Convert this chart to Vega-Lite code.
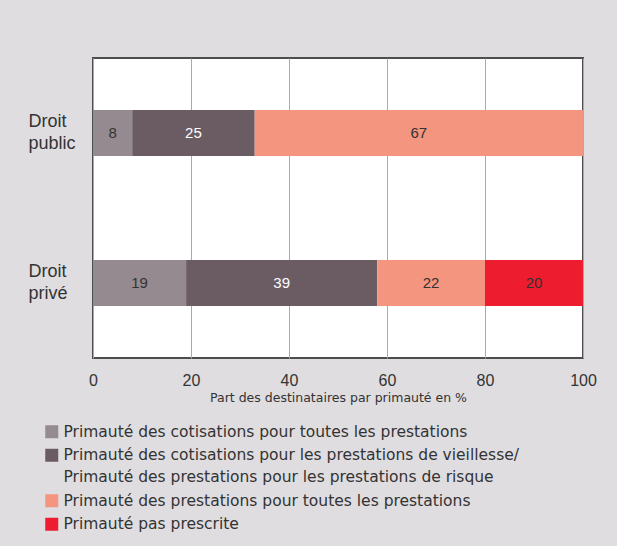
{
  "$schema": "https://vega.github.io/schema/vega-lite/v6.json",
  "width": 490,
  "height": 300,
  "autosize": {"type": "none"},
  "padding": {"left": 93, "top": 58, "right": 34, "bottom": 188},
  "background": "#dfdde0",
  "config": {
    "font": "Liberation Sans",
    "view": {"fill": "white", "stroke": "#4d4d4d", "strokeWidth": 2},
    "axis": {"labelColor": "#333333", "titleColor": "#333333"},
    "style": {"guide-label": {"lineHeight": 22}}
  },
  "data": {
    "values": [
      {"droit": "Droit public", "k": 1, "cat": "Primauté des cotisations pour toutes les prestations", "v": 8},
      {"droit": "Droit public", "k": 2, "cat": "Primauté des cotisations pour les prestations de vieillesse/ Primauté des prestations pour les prestations de risque", "v": 25},
      {"droit": "Droit public", "k": 3, "cat": "Primauté des prestations pour toutes les prestations", "v": 67},
      {"droit": "Droit privé", "k": 1, "cat": "Primauté des cotisations pour toutes les prestations", "v": 19},
      {"droit": "Droit privé", "k": 2, "cat": "Primauté des cotisations pour les prestations de vieillesse/ Primauté des prestations pour les prestations de risque", "v": 39},
      {"droit": "Droit privé", "k": 3, "cat": "Primauté des prestations pour toutes les prestations", "v": 22},
      {"droit": "Droit privé", "k": 4, "cat": "Primauté pas prescrite", "v": 20}
    ]
  },
  "encoding": {
    "y": {
      "field": "droit", "type": "nominal",
      "sort": ["Droit public", "Droit privé"],
      "scale": {"paddingInner": 0.693, "paddingOuter": 0.347},
      "axis": {
        "title": null, "ticks": false, "domain": false,
        "labelAlign": "left", "labelPadding": 65, "labelFontSize": 18,
        "labelBaseline": "middle", "labelOffset": -11,
        "labelExpr": "split(datum.label, ' ')"
      }
    },
    "order": {"field": "k", "type": "quantitative"}
  },
  "layer": [
    {
      "mark": {"type": "bar"},
      "encoding": {
        "x": {
          "field": "v", "type": "quantitative", "stack": "zero",
          "scale": {"domain": [0, 100], "nice": false},
          "axis": {
            "title": "Part des destinataires par primauté en %",
            "titleFont": "DejaVu Sans",
            "titleFontSize": 12.5, "titleFontWeight": "normal", "titlePadding": 3,
            "values": [0, 20, 40, 60, 80, 100],
            "ticks": false, "domain": false, "labelFlush": false,
            "labelFontSize": 16, "labelPadding": 14,
            "grid": true, "gridColor": "#aaaaaa", "gridWidth": 1
          }
        },
        "color": {
          "field": "cat", "type": "nominal",
          "scale": {
            "domain": [
              "Primauté des cotisations pour toutes les prestations",
              "Primauté des cotisations pour les prestations de vieillesse/ Primauté des prestations pour les prestations de risque",
              "Primauté des prestations pour toutes les prestations",
              "Primauté pas prescrite"
            ],
            "range": ["#958a90", "#6b5c64", "#f4957f", "#ed1c2e"]
          },
          "legend": {
            "title": null, "orient": "none", "legendX": -49, "legendY": 366,
            "direction": "vertical",
            "symbolType": "square", "symbolSize": 169, "symbolStrokeWidth": 0,
            "labelFont": "DejaVu Sans",
            "labelFontSize": 15.5, "labelColor": "#333333", "labelLimit": 600,
            "labelOffset": 4, "rowPadding": 6.5,
            "padding": 0,
            "labelExpr": "split(replace(datum.label, '/ ', '/|'), '|')"
          }
        }
      }
    },
    {
      "mark": {"type": "text", "fontSize": 15, "baseline": "middle", "align": "center"},
      "encoding": {
        "x": {"field": "v", "type": "quantitative", "stack": "zero", "bandPosition": 0.5},
        "text": {"field": "v", "type": "quantitative"},
        "color": {"condition": {"test": "datum.k === 2", "value": "white"}, "value": "#333333"}
      }
    }
  ]
}
